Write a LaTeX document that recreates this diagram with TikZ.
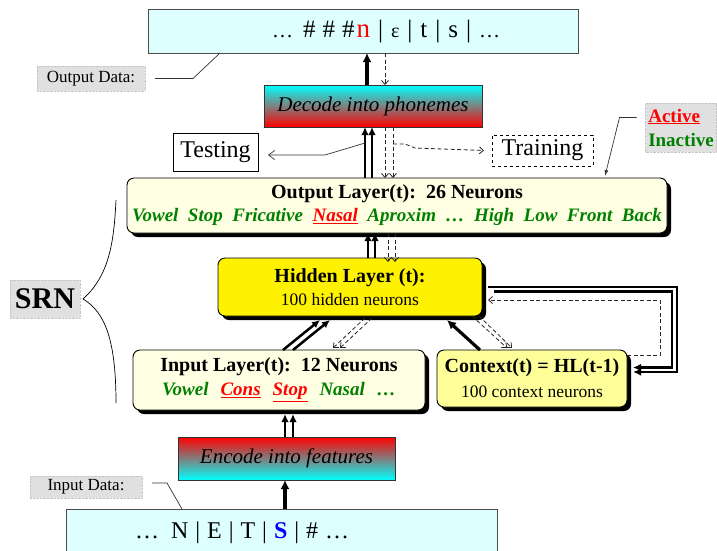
\documentclass[tikz,border=0pt]{standalone}
\usepackage{fontspec}
\setmainfont{Liberation Serif}
\usetikzlibrary{shadows,arrows.meta,calc}
\definecolor{lcyan}{RGB}{221,255,255}
\definecolor{cream}{RGB}{255,255,228}
\definecolor{ctxy}{RGB}{255,255,153}
\definecolor{dgreen}{RGB}{0,128,0}
\definecolor{lgray}{RGB}{224,224,224}
\newcommand\fsz[2]{\fontsize{#1}{#2}\selectfont}
\newcommand\gp{\hspace{9.5pt}}
\newcommand\gq{\hspace{12pt}}
\newcommand\sepbar{\hspace{7pt}|\hspace{7pt}}
\newcommand\topbar{\hspace{8pt}|\hspace{8pt}}
\begin{document}
\begin{tikzpicture}[x=1pt,y=-1pt,
  every node/.style={inner sep=0pt, outer sep=0pt},
  databox/.style={draw=black!70, line width=0.9pt, fill=lcyan},
  gradbox/.style={draw=black!80, line width=0.9pt},
  layerbox/.style={draw=black, line width=0.9pt, rounded corners=7pt, align=center,
      drop shadow={shadow xshift=4pt, shadow yshift=-4pt, fill=black, opacity=1}},
  tagbox/.style={fill=lgray, draw=gray!45, densely dotted},
  solidarr/.style={line width=3.2pt, -{Latex[length=9pt,width=9pt]}},
  pairarr/.style={line width=2.5pt, -{Latex[length=8pt,width=7.5pt]}},
  dasharr/.style={draw=black!85, line width=0.8pt, dash pattern=on 4pt off 2.5pt, -{Straight Barb[length=4pt,width=7pt]}},
  thinline/.style={line width=0.7pt, draw=black!80},
]
\useasboundingbox (0,0) rectangle (717,550);
\clip (0,0) rectangle (717,550);

% data boxes
\node[databox, minimum width=430pt, minimum height=44pt] (outdata) at (363,31) {};
\node[font=\fsz{25}{28}, anchor=west] (outtxt) at (272,32)
  {{\fsz{21}{26}…}\hspace{10pt}\#\hspace{7pt}\#\hspace{7pt}\#\hspace{2pt}{\fsz{27}{28}\textcolor{red}{n}}\topbar{\fsz{20}{26}ε}\topbar t\topbar s\topbar{\fsz{21}{26}…}};
\node[databox, minimum width=431pt, minimum height=42pt] (indata) at (281.5,530) {};
\node[font=\fsz{24}{28}, anchor=west] (intxt) at (135,533)
  {…\hspace{12pt}N\sepbar E\sepbar T\sepbar \textcolor{blue}{\textbf{S}}\sepbar \#\hspace{7pt}…};

% gradient boxes
\node[gradbox, top color=cyan, bottom color=red, minimum width=218pt, minimum height=42pt,
      font=\itshape\fsz{21}{24}] (decode) at (373,106) {Decode into phonemes};
\node[gradbox, top color=red, bottom color=cyan, minimum width=217pt, minimum height=43pt,
      font=\itshape\fsz{21}{24}] (encode) at (286.5,458.5) {Encode into features};

% testing / training
\node[draw, line width=0.9pt, minimum width=85pt, minimum height=38pt, font=\fsz{24}{27}] (testing) at (215.5,152) {Testing};
\node[draw, dashed, line width=0.9pt, minimum width=101pt, minimum height=31pt, font=\fsz{24}{27}] (training) at (542.5,150.5) {Training};

% layers
\node[layerbox, fill=cream, minimum width=540pt, minimum height=55pt, font=\fsz{20}{23}] (outlayer) at (397,205.5)
  {{\bfseries Output Layer(t):\ \ 26 Neurons}\\
   {\fsz{19}{23}\bfseries\itshape\color{dgreen}Vowel\gp Stop\gp Fricative\gp \textcolor{red}{\underline{Nasal}}\gp Aproxim\gp …\gp High\gp Low\gp Front\gp Back}};
\node[layerbox, fill=yellow, minimum width=264pt, minimum height=58pt, font=\fsz{20}{23}] (hidden) at (350,287)
  {{\bfseries Hidden Layer (t):}\\ {\fsz{17.5}{23}100 hidden neurons}};
\node[layerbox, fill=cream, minimum width=292pt, minimum height=60pt, font=\fsz{20}{24}] (inlayer) at (279,380)
  {{\bfseries Input Layer(t):\ \ 12 Neurons}\\
   {\fsz{19}{24}\bfseries\itshape\color{dgreen}Vowel\gq \textcolor{red}{\underline{Cons}}\gq \textcolor{red}{\underline{Stop}}\gq Nasal\gq …}};
\node[layerbox, fill=ctxy, minimum width=190pt, minimum height=57pt, font=\fsz{20}{25}] (context) at (532,378.5)
  {{\bfseries Context(t) = HL(t-1)}\\ {\fsz{17.5}{25}100 context neurons}};

% tags
\node[tagbox, minimum width=108pt, minimum height=25pt, font=\fsz{17}{19}] (outtag) at (91,78.5) {Output Data:};
\node[tagbox, minimum width=112pt, minimum height=22pt, font=\fsz{17}{19}] (intag) at (86,487) {Input Data:};
\node[tagbox, minimum width=70pt, minimum height=38pt, font=\bfseries\fsz{30}{34}] (srn) at (45,299) {SRN};
\node[tagbox, minimum width=71pt, minimum height=49pt, align=left, font=\bfseries\fsz{19}{24}] (legend) at (681,127.5)
  {\textcolor{red}{\underline{Active}}\\ \textcolor{dgreen}{Inactive}};

% decode <-> output data
\draw[solidarr] ([xshift=-6pt]decode.north) -- ([xshift=-6pt]decode.north |- outdata.south);
\draw[dasharr] ([xshift=12pt]decode.north |- outdata.south) -- ([xshift=12pt]decode.north);
% output layer <-> decode
\foreach \dx in {-8,-1} \draw[pairarr] ([xshift=\dx pt]decode.south |- outlayer.north) -- ([xshift=\dx pt]decode.south);
\foreach \dx in {12,20} \draw[dasharr] ([xshift=\dx pt]decode.south) -- ([xshift=\dx pt]decode.south |- outlayer.north);
% testing / training
\draw[thinline, -{Straight Barb[length=6pt,width=9pt]}] ([xshift=-8pt,yshift=-16pt]decode.south)
   -- ([xshift=-48pt,yshift=-28pt]decode.south) -- ([xshift=10pt,yshift=-3pt]testing.east);
\draw[dasharr] ([xshift=20pt,yshift=-17pt]decode.south) -- ([xshift=32pt,yshift=-17pt]decode.south)
   -- ([xshift=42pt,yshift=-21pt]decode.south) -- ([xshift=-8pt]training.west);
% hidden <-> output layer
\foreach \dx in {18,25} \draw[pairarr] ([xshift=\dx pt]hidden.north) -- ([xshift=\dx pt]hidden.north |- outlayer.south);
\foreach \dx in {38,45} \draw[dasharr] ([xshift=\dx pt]hidden.north |- outlayer.south) -- ([xshift=\dx pt,yshift=-4pt]hidden.north);
% input <-> hidden
\foreach \a/\b in {4/-30,14/-20} \draw[pairarr] ([xshift=\a pt]inlayer.north) -- ([xshift=\b pt,yshift=-4pt]hidden.south);
\foreach \a/\b in {15/54,22/61} \draw[dasharr] ([xshift=\a pt,yshift=-2pt]hidden.south) -- ([xshift=\b pt,yshift=2pt]inlayer.north);
% context <-> hidden
\draw[solidarr] ([xshift=-52pt]context.north) -- ([xshift=97pt,yshift=-4pt]hidden.south);
\foreach \a/\b in {122/-25,129/-20} \draw[dasharr] ([xshift=\a pt]hidden.south) -- ([xshift=\b pt,yshift=2pt]context.north);
% feedback loop
\draw[pairarr] ([xshift=6pt]hidden.east) -- ++(189,0) |- ([xshift=6pt,yshift=6.5pt]context.east);
\draw[pairarr] ([xshift=12pt,yshift=-4.5pt]hidden.east) -- ++(178,0) |- ([xshift=6pt,yshift=11pt]context.east);
\draw[dasharr] ([yshift=23.5pt]context.east) -- ++(33,0) |- ([xshift=6pt,yshift=-13pt]hidden.east);
% encode <-> input
\foreach \dx in {-1.5,6.5} \draw[pairarr] ([xshift=\dx pt]encode.north) -- ([xshift=\dx pt,yshift=-4pt]encode.north |- inlayer.south);
\draw[solidarr] ([xshift=-1.5pt]encode.south |- indata.north) -- ([xshift=-1.5pt]encode.south);

% callout lines
\draw[thinline] ([xshift=10pt]outtag.east) -- ++(38,0) -- ([xshift=-143pt]outdata.south);
\draw[thinline] ([xshift=10pt,yshift=4pt]intag.east) -- ++(15,0) -- ([xshift=-99.5pt]indata.north);
\draw[thinline, -{Latex[length=6pt,width=4pt]}] ([xshift=-9pt,yshift=10pt]legend.west) -- ++(-17,0)
   -- ([xshift=208pt,yshift=2pt]outlayer.north);

% SRN brace
\draw[line width=0.7pt] (116,200) .. controls (114,240) and (110,275) .. ([xshift=3pt]srn.east)
   .. controls (105,312) and (116,340) .. (116,403);
\end{tikzpicture}
\end{document}
